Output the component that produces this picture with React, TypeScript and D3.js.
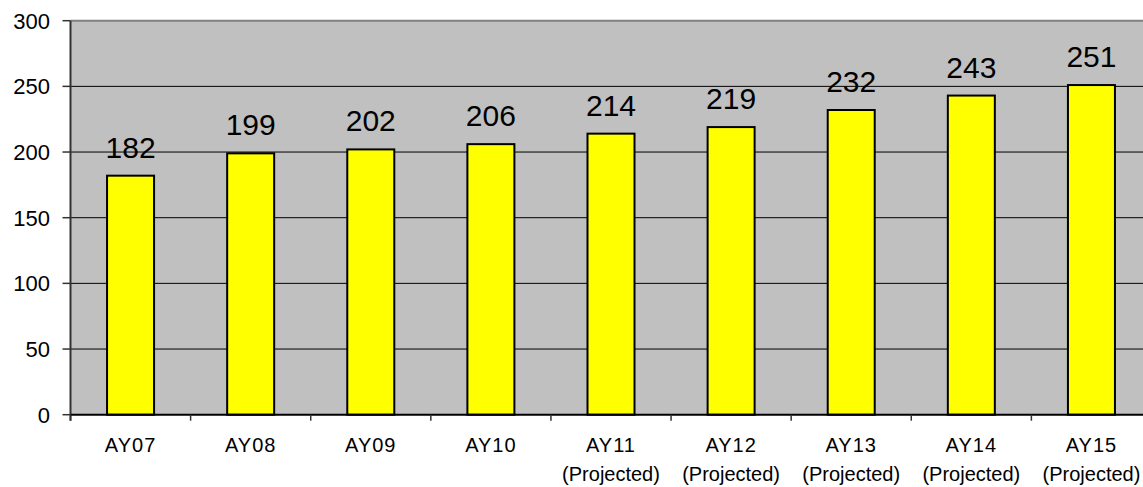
import React from "react";
import * as d3 from "d3";

const categories = ["AY07", "AY08", "AY09", "AY10", "AY11", "AY12", "AY13", "AY14", "AY15"];
const subLabels = ["", "", "", "", "(Projected)", "(Projected)", "(Projected)", "(Projected)", "(Projected)"];
const values = [182, 199, 202, 206, 214, 219, 232, 243, 251];
const yTicks = [0, 50, 100, 150, 200, 250, 300];

const W = 1143;
const H = 487;
const left = 70.5;
const right = 1151.5;
const top = 20.7;
const bottom = 414.7;
const font = "'Liberation Sans', Arial, Helvetica, sans-serif";

export default function App() {
  const x = d3.scaleBand<string>().domain(categories).range([left, right]).paddingInner(0).paddingOuter(0);
  const y = d3.scaleLinear().domain([0, 300]).range([bottom, top]);
  const bw = 47;
  const bands = x.bandwidth();

  return (
    <svg width={W} height={H} style={{ position: "absolute", left: 0, top: 0, background: "#fff" }}>
      <rect x={left} y={y(300)} width={right - left} height={bottom - y(300)} fill="#c0c0c0" />
      {yTicks.filter(t => t > 0 && t < 300).map(t => (
        <line key={t} x1={left} x2={right} y1={y(t)} y2={y(t)} stroke="#000" strokeWidth={1} />
      ))}
      <line x1={left} x2={right} y1={y(300)} y2={y(300)} stroke="#808080" strokeWidth={2} />
      {categories.map((c, i) => {
        const cx = (x(c) as number) + bands / 2;
        return (
          <g key={c}>
            <rect x={cx - bw / 2} y={y(values[i])} width={bw} height={bottom - y(values[i])}
              fill="#ffff00" stroke="#000" strokeWidth={2} />
            <text x={cx} y={y(values[i]) - 18} textAnchor="middle" fontFamily={font} fontSize={30} fill="#000">
              {values[i]}
            </text>
            <text x={cx} y={452} textAnchor="middle" fontFamily={font} fontSize={20} letterSpacing={1} fill="#000">
              {c}
            </text>
            {subLabels[i] && (
              <text x={cx} y={481} textAnchor="middle" fontFamily={font} fontSize={20} fill="#000">
                {subLabels[i]}
              </text>
            )}
          </g>
        );
      })}
      <line x1={left} x2={left} y1={y(300)} y2={bottom + 6} stroke="#333" strokeWidth={2} />
      <line x1={left} x2={right} y1={bottom} y2={bottom} stroke="#000" strokeWidth={2} />
      {categories.map(c => (
        <line key={"t" + c} x1={x(c) as number} x2={x(c) as number} y1={bottom} y2={bottom + 6} stroke="#333" strokeWidth={1.5} />
      ))}
      {yTicks.map(t => (
        <g key={"y" + t}>
          <line x1={left - 8} x2={left} y1={y(t)} y2={y(t)} stroke="#333" strokeWidth={1.5} />
          <text x={50} y={y(t) + 8} textAnchor="end" fontFamily={font} fontSize={22} fill="#000">
            {t}
          </text>
        </g>
      ))}
    </svg>
  );
}
